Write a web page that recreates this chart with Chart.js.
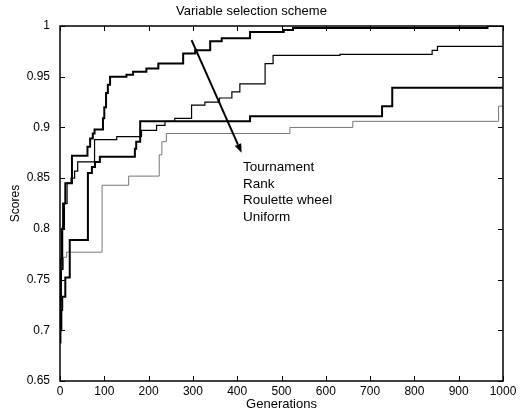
<!DOCTYPE html>
<html>
<head>
<meta charset="utf-8">
<script src="https://cdn.jsdelivr.net/npm/chart.js@4.4.0/dist/chart.umd.min.js"></script>
<style>
  html, body { margin: 0; padding: 0; background: #ffffff; }
  .chart-container { position: relative; width: 525px; height: 420px; }
</style>
</head>
<body>
<div class="chart-container"><canvas id="myChart"></canvas></div>
<script>
// Tick labels
const xTickLabels = ['0', '100', '200', '300', '400', '500', '600', '700', '800', '900', '1000'];
const yTickLabels = ['0.65', '0.7', '0.75', '0.8', '0.85', '0.9', '0.95', '1'];
const seriesNames = ['Tournament', 'Rank', 'Roulette wheel', 'Uniform'];

// Best score per generation (step curves, value starts at the given generation)
const tournamentGen   = [0, 1, 2, 4, 7, 12, 27, 62, 68, 74, 78, 97, 100, 104, 108, 113, 150, 165, 195, 222, 278, 305, 339, 365, 429, 505, 526, 965, 1000];
const tournamentScore = [0.688, 0.74, 0.77, 0.80, 0.825, 0.845, 0.872, 0.881, 0.889, 0.894, 0.898, 0.909, 0.92, 0.934, 0.942, 0.95, 0.952, 0.955, 0.958, 0.963, 0.973, 0.976, 0.985, 0.988, 0.994, 0.996, 0.998, 1.0, 1.0];

const rankGen   = [0, 3, 6, 10, 16, 25, 33, 40, 78, 128, 184, 218, 237, 259, 297, 327, 360, 388, 406, 463, 481, 632, 840, 852, 1000];
const rankScore = [0.73, 0.76, 0.80, 0.825, 0.845, 0.85, 0.857, 0.866, 0.888, 0.891, 0.897, 0.902, 0.906, 0.909, 0.922, 0.925, 0.929, 0.935, 0.943, 0.963, 0.971, 0.972, 0.976, 0.98, 0.98];

const rouletteGen   = [0, 3, 5, 12, 22, 63, 72, 79, 90, 169, 172, 181, 429, 727, 750, 1000];
const rouletteScore = [0.70, 0.72, 0.733, 0.752, 0.789, 0.855, 0.861, 0.866, 0.871, 0.879, 0.886, 0.906, 0.911, 0.921, 0.939, 0.939];

const uniformGen   = [0, 3, 8, 15, 95, 155, 224, 230, 240, 519, 661, 990, 1000];
const uniformScore = [0.74, 0.76, 0.772, 0.777, 0.843, 0.852, 0.873, 0.886, 0.894, 0.900, 0.906, 0.921, 0.921];

const fontFamily = "'Liberation Sans', Arial, sans-serif";

function toPoints(gens, scores) {
    return gens.map((g, i) => ({ x: g, y: scores[i] }));
}

// Cadre + graduations vers l'intérieur (style MATLAB)
const frameTicks = {
    id: 'frameTicks',
    afterDraw(chart) {
        const { ctx, chartArea: a, scales: { x, y } } = chart;
        ctx.save();
        ctx.strokeStyle = '#000000';
        ctx.lineWidth = 1.5;
        ctx.strokeRect(a.left, a.top, a.right - a.left, a.bottom - a.top);
        ctx.lineWidth = 1;
        ctx.beginPath();
        x.ticks.forEach(t => {
            const px = Math.round(x.getPixelForValue(t.value)) + 0.5;
            ctx.moveTo(px, a.bottom); ctx.lineTo(px, a.bottom - 5);
            ctx.moveTo(px, a.top); ctx.lineTo(px, a.top + 5);
        });
        y.ticks.forEach(t => {
            const py = Math.round(y.getPixelForValue(t.value)) + 0.5;
            ctx.moveTo(a.left, py); ctx.lineTo(a.left + 5, py);
            ctx.moveTo(a.right, py); ctx.lineTo(a.right - 5, py);
        });
        ctx.stroke();
        ctx.restore();
    }
};

// Flèche + texte de légende dans le graphique
const arrowNote = {
    id: 'arrowNote',
    afterDatasetsDraw(chart, args, opts) {
        const { ctx, scales: { x, y } } = chart;
        const x1 = x.getPixelForValue(opts.from[0]), y1 = y.getPixelForValue(opts.from[1]);
        const x2 = x.getPixelForValue(opts.to[0]), y2 = y.getPixelForValue(opts.to[1]);
        const ang = Math.atan2(y2 - y1, x2 - x1);
        const head = 9, half = 3.5;
        ctx.save();
        ctx.strokeStyle = '#000000';
        ctx.fillStyle = '#000000';
        ctx.lineWidth = 2;
        ctx.beginPath();
        ctx.moveTo(x1, y1);
        ctx.lineTo(x2 - head * Math.cos(ang), y2 - head * Math.sin(ang));
        ctx.stroke();
        ctx.beginPath();
        ctx.moveTo(x2, y2);
        ctx.lineTo(x2 - head * Math.cos(ang) + half * Math.sin(ang), y2 - head * Math.sin(ang) - half * Math.cos(ang));
        ctx.lineTo(x2 - head * Math.cos(ang) - half * Math.sin(ang), y2 - head * Math.sin(ang) + half * Math.cos(ang));
        ctx.closePath();
        ctx.fill();

        ctx.font = '13.5px ' + fontFamily;
        ctx.textAlign = 'left';
        ctx.textBaseline = 'alphabetic';
        const tx = x.getPixelForValue(opts.textAt[0]);
        const ty = y.getPixelForValue(opts.textAt[1]);
        chart.data.datasets.forEach((ds, i) => {
            ctx.fillText(ds.label, tx, ty + i * opts.lineGap);
        });
        ctx.restore();
    }
};

function createChart() {
    const config = {
        type: 'line',
        data: {
            datasets: [{
                label: seriesNames[0],
                data: toPoints(tournamentGen, tournamentScore),
                borderColor: '#000000',
                borderWidth: 2
            }, {
                label: seriesNames[1],
                data: toPoints(rankGen, rankScore),
                borderColor: '#000000',
                borderWidth: 1.2
            }, {
                label: seriesNames[2],
                data: toPoints(rouletteGen, rouletteScore),
                borderColor: '#000000',
                borderWidth: 2
            }, {
                label: seriesNames[3],
                data: toPoints(uniformGen, uniformScore),
                borderColor: '#777777',
                borderWidth: 1
            }]
        },
        options: {
            responsive: true,
            maintainAspectRatio: false,
            animation: false,
            devicePixelRatio: 1,
            layout: { padding: { left: 0, right: 22, top: 0, bottom: 0 } },
            elements: {
                line: { stepped: true, fill: false, tension: 0 },
                point: { radius: 0, hoverRadius: 0 }
            },
            scales: {
                x: {
                    type: 'linear',
                    min: 0,
                    max: 1000,
                    afterFit: s => { s.height = 39; },
                    grid: { display: false, drawTicks: false },
                    border: { display: false },
                    ticks: {
                        stepSize: 100,
                        maxRotation: 0,
                        padding: 3,
                        color: '#000000',
                        font: { family: fontFamily, size: 12 },
                        callback: (v, i) => xTickLabels[i]
                    },
                    title: {
                        display: true,
                        text: 'Generations',
                        color: '#000000',
                        font: { family: fontFamily, size: 13 },
                        padding: { top: 0, bottom: 8 }
                    }
                },
                y: {
                    min: 0.65,
                    max: 1,
                    afterFit: s => { s.width = 60; },
                    grid: { display: false, drawTicks: false },
                    border: { display: false },
                    ticks: {
                        stepSize: 0.05,
                        padding: 10,
                        color: '#000000',
                        font: { family: fontFamily, size: 12 },
                        callback: (v, i) => yTickLabels[i]
                    },
                    title: {
                        display: true,
                        text: 'Scores',
                        color: '#000000',
                        font: { family: fontFamily, size: 12 },
                        padding: { top: 8, bottom: 0 }
                    }
                }
            },
            plugins: {
                legend: { display: false },
                tooltip: { enabled: false },
                title: {
                    display: true,
                    text: 'Variable selection scheme',
                    color: '#000000',
                    font: { family: fontFamily, size: 13, weight: 'normal' },
                    padding: { top: 4, bottom: 6.4 }
                },
                arrowNote: {
                    from: [297, 0.986],
                    to: [410, 0.875],
                    textAt: [413, 0.857],
                    lineGap: 16.7
                }
            }
        },
        plugins: [frameTicks, arrowNote]
    };

    const ctx = document.getElementById('myChart').getContext('2d');
    new Chart(ctx, config);
}

createChart();
</script>
</body>
</html>
